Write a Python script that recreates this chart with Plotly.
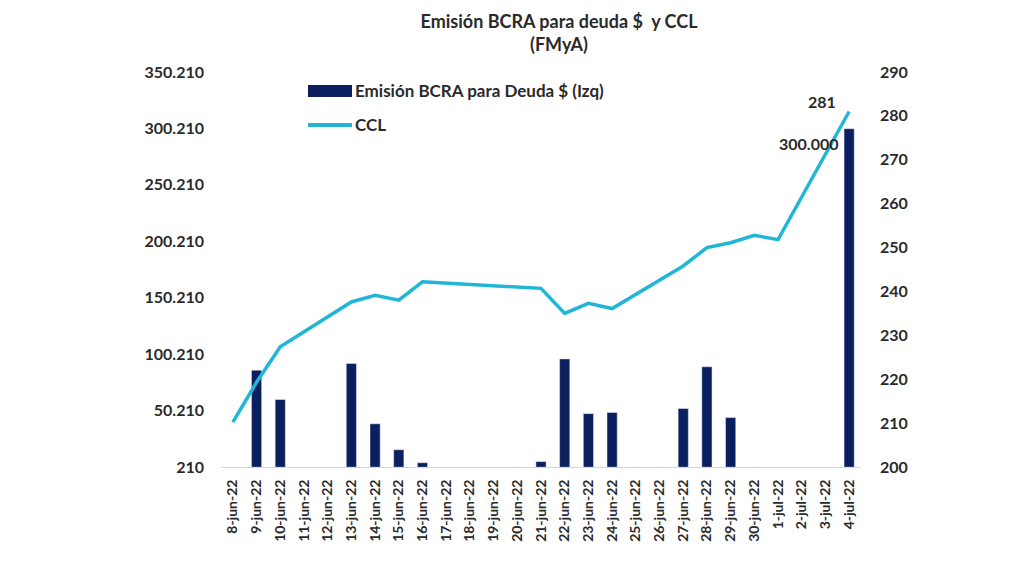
import plotly.graph_objects as go
from plotly.subplots import make_subplots

# --- datos ---
fechas = ['8-jun-22', '9-jun-22', '10-jun-22', '11-jun-22', '12-jun-22', '13-jun-22',
          '14-jun-22', '15-jun-22', '16-jun-22', '17-jun-22', '18-jun-22', '19-jun-22',
          '20-jun-22', '21-jun-22', '22-jun-22', '23-jun-22', '24-jun-22', '25-jun-22',
          '26-jun-22', '27-jun-22', '28-jun-22', '29-jun-22', '30-jun-22', '1-jul-22',
          '2-jul-22', '3-jul-22', '4-jul-22']

emision = [0, 86000, 60000, 0, 0, 92000,
           38500, 15500, 4000, 0, 0, 0,
           0, 5000, 96000, 47500, 48500, 0,
           0, 52000, 89000, 44000, 0, 0,
           0, 0, 300000]

ccl = [210.2, 219.3, 227.4, None, None, 237.6,
       239.1, 238.0, 242.2, None, None, None,
       None, 240.7, 235.0, 237.3, 236.1, None,
       None, 245.8, 250.0, 251.1, 252.8, 251.8,
       None, None, 281.0]

ticks_izq = [210, 50210, 100210, 150210, 200210, 250210, 300210, 350210]
ticks_der = [200, 210, 220, 230, 240, 250, 260, 270, 280, 290]

AZUL = '#0b1f5e'
CELESTE = '#22b6d6'
TEXTO = '#2a2a2a'
FUENTE = 'Lato'

# la página tiene 8 px de margen en el body: todo se corre 8 px
OFF = 8
PX0, PW = 221, 640      # área de gráfico en pantalla (x)
PY0, PH = 72, 395.5     # área de gráfico en pantalla (y)


def miles(v):
    return f"{v:,.0f}".replace(",", ".")


def px(x):
    return (x - PX0) / PW


def py(y):
    return (PY0 + PH - y) / PH


fig = make_subplots(specs=[[{"secondary_y": True}]])

fig.add_trace(go.Bar(x=fechas, y=emision, name='Emisión BCRA para Deuda $ (Izq)',
                     marker=dict(color=AZUL), showlegend=False), secondary_y=False)
fig.add_trace(go.Scatter(x=fechas, y=ccl, name='CCL', mode='lines', connectgaps=True,
                         line=dict(color=CELESTE, width=3.5), showlegend=False),
              secondary_y=True)

# etiquetas de datos del último día
fig.add_annotation(x=fechas[-1], y=ccl[-1], yref='y2', text=f"{ccl[-1]:.0f}", showarrow=False,
                   xanchor='right', yanchor='bottom', xshift=-11, yshift=-1,
                   font=dict(family=FUENTE, size=16, color=TEXTO, weight='bold'))
fig.add_annotation(x=fechas[-1], y=emision[-1], yref='y', text=miles(emision[-1]), showarrow=False,
                   xanchor='right', yanchor='top', xshift=-9, yshift=-3,
                   font=dict(family=FUENTE, size=16, color=TEXTO, weight='bold'))

# leyenda dibujada a mano (rectángulo ancho como en Excel)
fig.add_shape(type='rect', xref='paper', yref='paper', x0=px(308), x1=px(352),
              y0=py(97), y1=py(85), fillcolor=AZUL, line=dict(width=0))
fig.add_shape(type='line', xref='paper', yref='paper', x0=px(308), x1=px(352),
              y0=py(125), y1=py(125), line=dict(color=CELESTE, width=4))
fig.add_annotation(xref='paper', yref='paper', x=px(353), y=py(91),
                   text='Emisión BCRA para Deuda $ (Izq)', showarrow=False,
                   xanchor='left', yanchor='middle',
                   font=dict(family=FUENTE, size=17, color=TEXTO, weight='bold'))
fig.add_annotation(xref='paper', yref='paper', x=px(353), y=py(125),
                   text='CCL', showarrow=False, xanchor='left', yanchor='middle',
                   font=dict(family=FUENTE, size=17, color=TEXTO, weight='bold'))

fig.update_layout(
    width=1010, height=567,
    margin=dict(l=PX0 - OFF, r=1010 - (PX0 - OFF) - PW, t=PY0 - OFF, b=567 - (PY0 - OFF) - PH),
    paper_bgcolor='white', plot_bgcolor='white',
    bargap=0.57,
    title=dict(text='<b>Emisión BCRA para deuda $  y CCL<br>(FMyA)</b>',
               x=(559 - OFF) / 1010, xanchor='center',
               y=1 - 20 / 567, yanchor='top', font=dict(family=FUENTE, size=18, color=TEXTO)),
    font=dict(family=FUENTE, color=TEXTO),
)

fig.update_xaxes(type='category', domain=[0, 1], tickangle=-90, showgrid=False, showline=True,
                 linecolor='#d6d6d6', linewidth=1, ticks='', ticklabelstandoff=6,
                 automargin=False,
                 tickfont=dict(family=FUENTE, size=14, color=TEXTO, weight='bold'))
fig.update_yaxes(range=[210, 350210], tickvals=ticks_izq, ticktext=[miles(v) for v in ticks_izq],
                 showgrid=False, zeroline=False, ticks='', ticklabelstandoff=16, automargin=False,
                 tickfont=dict(family=FUENTE, size=16, color=TEXTO, weight='bold'),
                 secondary_y=False)
fig.update_yaxes(range=[200, 290], tickvals=ticks_der, showgrid=False, zeroline=False,
                 ticks='', ticklabelstandoff=18, automargin=False,
                 tickfont=dict(family=FUENTE, size=16, color=TEXTO, weight='bold'),
                 secondary_y=True)

fig.write_html("out.html")
